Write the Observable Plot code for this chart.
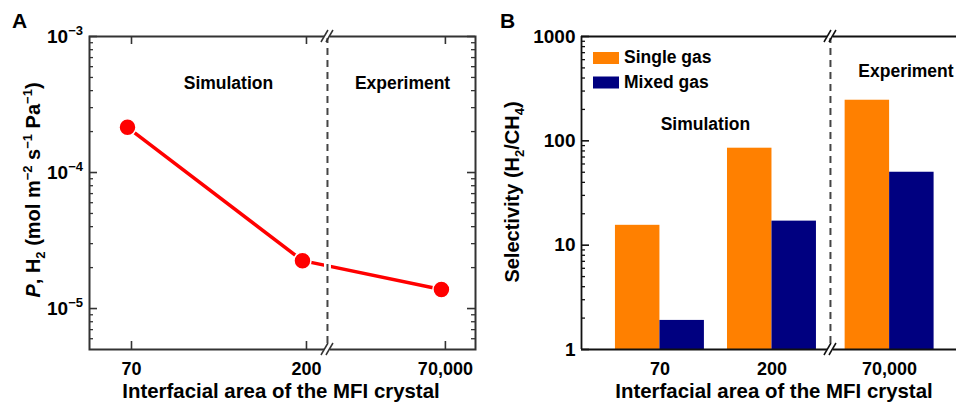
<!DOCTYPE html>
<html><head><meta charset="utf-8">
<script src="https://cdn.jsdelivr.net/npm/d3@7"></script>
<script src="https://cdn.jsdelivr.net/npm/@observablehq/plot@0.6"></script>
<style>
body{margin:0;background:#fff;}
#wrap{position:relative;width:956px;height:405px;overflow:hidden;}
#a,#b{position:absolute;top:0;}
#a{left:0;} #b{left:478px;}
svg{overflow:visible;}
</style></head><body><div id="wrap"><div id="a"></div><div id="b"></div></div>
<script>
// ---- data ----
const categories = ["70", "200", "70,000"];
const permeanceH2 = [2.15e-4, 2.25e-5, 1.38e-5];
const seriesNames = ["Single gas", "Mixed gas"];
const singleGas = [15.5, 85, 245];
const mixedGas = [1.9, 17, 50];
const yTicksA = [1e-5, 1e-4, 1e-3];
const yTickExpA = ["\u22125", "\u22124", "\u22123"];
const yTicksB = [1, 10, 100, 1000];
const regionLabels = ["Simulation", "Experiment"];
const xTitle = "Interfacial area of the MFI crystal";

// ---- layout ----
const FONT = '"Liberation Sans", Arial, Helvetica, sans-serif';
const posA = [0, 1, 1.794], breakA = 1.12, xDomA = [-0.24, 1.966], yDomA = [5e-6, 1e-3];
const posB = [0, 1, 2.05], breakB = 1.522, halfW = 0.397, xDomB = [-0.70, 2.647], yDomB = [1, 1000];
const labelA = new Map(posA.map((p, i) => [p, categories[i]]));
const labelB = new Map(posB.map((p, i) => [p, categories[i]]));
const frameTop = 36, frameBottom = 349;
const pxA = (475 - 89) / (xDomA[1] - xDomA[0]);              // px per x unit
const decA = (frameBottom - frameTop) / Math.log10(yDomA[1] / yDomA[0]); // px per decade
const pxB = (956 - 581) / (xDomB[1] - xDomB[0]);
const decB = (frameBottom - frameTop) / Math.log10(yDomB[1] / yDomB[0]);

const dataA = categories.map((c, i) => ({cat: c, pos: posA[i], p: permeanceH2[i]}));
const dataB = [];
categories.forEach((c, i) => {
  dataB.push({cat: c, series: seriesNames[0], x1: posB[i] - halfW, x2: posB[i], v: singleGas[i]});
  dataB.push({cat: c, series: seriesNames[1], x1: posB[i], x2: posB[i] + halfW, v: mixedGas[i]});
});
function minors(lo, hi) {
  const out = [];
  for (let e = -7; e <= 3; e++) for (let m = 2; m <= 9; m++) {
    const v = +(m * Math.pow(10, e)).toPrecision(6);
    if (v > lo && v < hi) out.push(v);
  }
  return out;
}
const minorA = minors(yDomA[0], yDomA[1]);
const minorB = minors(yDomB[0], yDomB[1]);
const AX = "#333";

// where the red line crosses the break (log-linear between points 2 and 3)
const tBreak = (breakA - posA[1]) / (posA[2] - posA[1]);
const yBreak = Math.pow(10, Math.log10(permeanceH2[1]) + tBreak * (Math.log10(permeanceH2[2]) - Math.log10(permeanceH2[1])));

// inward ticks drawn as rules in data space
function yTicksIn(vals, xEdge, lenUnits, color, w) {
  return Plot.ruleY(vals, {y: d => d, x1: () => xEdge, x2: () => xEdge + lenUnits, stroke: color, strokeWidth: w});
}
function xTicksIn(vals, yEdge, factor, color, w) {
  return Plot.ruleX(vals, {x: d => d, y1: () => yEdge, y2: () => yEdge * factor, stroke: color, strokeWidth: w});
}

const plotA = Plot.plot({
  width: 478, height: 405, marginLeft: 89, marginRight: 3, marginTop: frameTop, marginBottom: 405 - frameBottom,
  style: {fontFamily: FONT, fontWeight: "bold", fontSize: "18px", color: "#000", background: "transparent"},
  x: {type: "linear", domain: xDomA, axis: null},
  y: {type: "log", domain: yDomA, axis: null},
  marks: [
    Plot.line(dataA, {x: "pos", y: "p", stroke: "#ff0000", strokeWidth: 3.5, dx: -4}),
    Plot.ruleX([breakA], {y1: () => yBreak * 1.12, y2: () => yBreak / 1.12, stroke: "#fff", strokeWidth: 7}),
    Plot.ruleX([breakA], {stroke: "#444", strokeWidth: 2, strokeDasharray: "7,5"}),
    Plot.dot(dataA, {x: "pos", y: "p", r: 8.5, fill: "#ff0000", stroke: "#fff", strokeWidth: 1.5, dx: -4}),
    yTicksIn(yTicksA, xDomA[0], 8 / pxA, AX, 1.6),
    yTicksIn(minorA, xDomA[0], 4 / pxA, AX, 1.3),
    yTicksIn(yTicksA, xDomA[1], -8 / pxA, AX, 1.6),
    yTicksIn(minorA, xDomA[1], -4 / pxA, AX, 1.3),
    xTicksIn(posA, yDomA[1], Math.pow(10, -8 / decA), AX, 1.6),
    xTicksIn(posA, yDomA[0], Math.pow(10, 8 / decA), AX, 1.6),
    Plot.frame({stroke: AX, strokeWidth: 2}),
    Plot.axisX(posA, {anchor: "bottom", tickSize: 0, tickPadding: 13, tickFormat: d => labelA.get(d), label: null, fontSize: 18, fill: "#000"}),
    Plot.text([{x: 0.554, t: regionLabels[0]}, {x: 1.549, t: regionLabels[1]}], {x: "x", text: "t", frameAnchor: "top", dy: 52, lineAnchor: "bottom", fontSize: 17.5, fontWeight: "bold", fill: "#000"})
  ]
});

const plotB = Plot.plot({
  width: 478, height: 405, marginLeft: 103, marginRight: 0, marginTop: frameTop, marginBottom: 405 - frameBottom,
  style: {fontFamily: FONT, fontWeight: "bold", fontSize: "18px", color: "#000", background: "transparent"},
  x: {type: "linear", domain: xDomB, axis: null},
  y: {type: "log", domain: yDomB, axis: null},
  color: {domain: seriesNames, range: ["#ff8000", "#000080"]},
  marks: [
    Plot.rect(dataB, {x1: "x1", x2: "x2", y1: () => 1, y2: "v", fill: "series"}),
    Plot.ruleX([breakB], {stroke: "#444", strokeWidth: 2, strokeDasharray: "7,5"}),
    yTicksIn(yTicksB, xDomB[0], 8 / pxB, "#111", 1.6),
    yTicksIn(minorB, xDomB[0], 4 / pxB, "#111", 1.3),
    Plot.ruleY(yDomB, {stroke: "#111", strokeWidth: 1.8}),
    Plot.ruleX([xDomB[0]], {stroke: "#111", strokeWidth: 1.8}),
    Plot.axisY(yTicksB, {anchor: "left", tickSize: 0, tickPadding: 6, tickFormat: d => String(d), label: null, fontSize: 19, fill: "#000"}),
    Plot.axisX(posB, {anchor: "bottom", tickSize: 0, tickPadding: 13, tickFormat: d => labelB.get(d), label: null, fontSize: 18, fill: "#000"}),
    Plot.text([{x: 0.406, t: regionLabels[0]}], {x: "x", text: "t", frameAnchor: "top", dy: 93, lineAnchor: "bottom", fontSize: 17.5, fontWeight: "bold", fill: "#000"}),
    Plot.text([{x: 2.196, t: regionLabels[1]}], {x: "x", text: "t", frameAnchor: "top", dy: 40, lineAnchor: "bottom", fontSize: 17.5, fontWeight: "bold", fill: "#000"})
  ]
});

document.getElementById("a").appendChild(plotA);
document.getElementById("b").appendChild(plotB);

// ---- rich text helpers ----
function rich(g, x, y, parts, size, rotate) {
  const t = g.append("text")
    .attr("text-anchor", "middle")
    .attr("font-size", size)
    .attr("transform", `translate(${x},${y})` + (rotate ? " rotate(-90)" : ""));
  let cur = 0;
  for (const [s, kind] of parts) {
    const target = kind === "sup" ? -8 : kind === "sub" ? 5 : 0;
    const ts = t.append("tspan").attr("dy", target - cur).text(s);
    cur = target;
    if (kind === "sup" || kind === "sub") ts.attr("font-size", size * 0.65);
    if (kind === "italic") ts.attr("font-style", "italic");
  }
  return t;
}
function breakMark(g, x, y, color) {
  g.append("line").attr("x1", x - 3).attr("x2", x + 3).attr("y1", y).attr("y2", y)
    .attr("stroke", "#fff").attr("stroke-width", 4);
  for (const dx of [-2.5, 2.5]) {
    g.append("line").attr("x1", x + dx - 3.5).attr("y1", y + 6).attr("x2", x + dx + 3.5).attr("y2", y - 6)
      .attr("stroke", color).attr("stroke-width", 1.5);
  }
}

// Panel A extras
{
  const xs = plotA.scale("x"), ys = plotA.scale("y");
  const g = d3.select(plotA).append("g").attr("font-family", FONT).attr("font-weight", "bold").attr("fill", "#000");
  yTicksA.forEach((v, i) => {
    const t = g.append("text").attr("x", 83).attr("y", ys.apply(v) + 6.8).attr("text-anchor", "end").attr("font-size", 19);
    t.append("tspan").text("10");
    t.append("tspan").attr("dy", -7.5).attr("font-size", 13).text(yTickExpA[i]);
  });
  const bx = xs.apply(breakA);
  breakMark(g, bx, ys.apply(yDomA[1]), AX);
  breakMark(g, bx, ys.apply(yDomA[0]), AX);
  rich(g, 40, 190, [["P", "italic"], [", H"], ["2", "sub"], [" (mol m"], ["\u22122", "sup"], [" s"], ["\u22121", "sup"], [" Pa"], ["\u22121", "sup"], [")"]], 20, true);
  g.append("text").attr("x", 281).attr("y", 398).attr("text-anchor", "middle").attr("font-size", 20.4).text(xTitle);
  g.append("text").attr("x", 12).attr("y", 28).attr("text-anchor", "start").attr("font-size", 21).text("A");
}
// Panel B extras
{
  const xs = plotB.scale("x"), ys = plotB.scale("y"), cs = plotB.scale("color");
  const g = d3.select(plotB).append("g").attr("font-family", FONT).attr("font-weight", "bold").attr("fill", "#000");
  const bx = xs.apply(breakB);
  breakMark(g, bx, ys.apply(yDomB[1]), "#111");
  breakMark(g, bx, ys.apply(yDomB[0]), "#111");
  rich(g, 41, 192, [["Selectivity (H"], ["2", "sub"], ["/CH"], ["4", "sub"], [")"]], 20, true);
  g.append("text").attr("x", 296).attr("y", 398).attr("text-anchor", "middle").attr("font-size", 20.4).text(xTitle);
  g.append("text").attr("x", 22).attr("y", 28).attr("text-anchor", "start").attr("font-size", 21).text("B");
  seriesNames.forEach((s, i) => {
    const y0 = 52 + i * 24.5;
    g.append("rect").attr("x", 115).attr("y", y0).attr("width", 26).attr("height", 12).attr("fill", cs.apply(s));
    g.append("text").attr("x", 146).attr("y", y0 + 11).attr("text-anchor", "start").attr("font-size", 17.5).text(s);
  });
}
</script></body></html>
